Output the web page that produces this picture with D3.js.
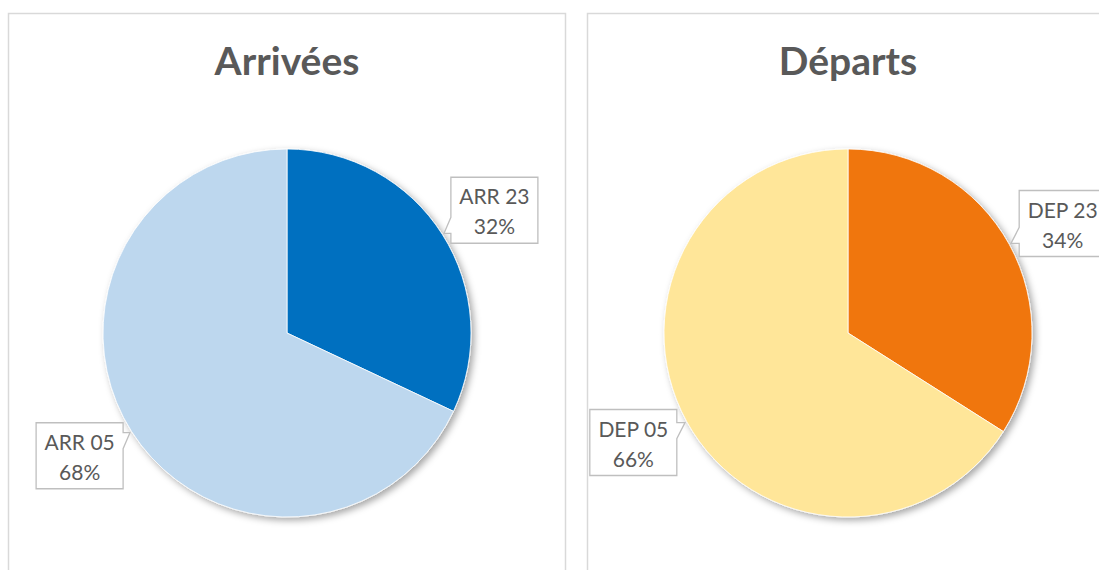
<!DOCTYPE html>
<html>
<head>
<meta charset="utf-8">
<script src="https://cdn.jsdelivr.net/npm/d3@7"></script>
<style>
  html, body { margin: 0; padding: 0; background: #fff; }
  svg { display: block; }
</style>
</head>
<body>
<svg id="chart" width="1099" height="570"></svg>
<script>
// data
const arrLabels = ['ARR 23', 'ARR 05'];
const arrValues = [32, 68];
const arrColors = ['#0070C0', '#BDD7EE'];

const depLabels = ['DEP 23', 'DEP 05'];
const depValues = [34, 66];
const depColors = ['#F0760C', '#FFE699'];

const panels = [
  { title: 'Arrivées', labels: arrLabels, values: arrValues, colors: arrColors, x: 8, cx: 287 },
  { title: 'Départs', labels: depLabels, values: depValues, colors: depColors, x: 587, cx: 848 }
];

const svg = d3.select('#chart');
const panelW = 557;
const cy = 333;
const radius = 184;
const labelRadius = 241;
const labelShift = 0.031; // labels sit a little clockwise of the slice middle
const boxW = 87, boxH = 66;

// soft drop shadow under the pies
const defs = svg.append('defs');
const shadow = defs.append('filter').attr('id', 'pieShadow')
  .attr('x', '-20%').attr('y', '-20%').attr('width', '140%').attr('height', '140%');
shadow.append('feDropShadow')
  .attr('dx', 3).attr('dy', 3).attr('stdDeviation', 3.5)
  .attr('flood-color', '#000').attr('flood-opacity', 0.35);

const pie = d3.pie().sort(null);
const arc = d3.arc().innerRadius(0).outerRadius(radius);
const tipArc = d3.arc().innerRadius(radius + 2).outerRadius(radius + 2);

function labelPos(d) {
  const a = (d.startAngle + d.endAngle) / 2 + labelShift;
  return [labelRadius * Math.sin(a), -labelRadius * Math.cos(a)];
}

panels.forEach((p) => {
  const g = svg.append('g');

  g.append('rect')
    .attr('x', p.x + 0.5).attr('y', 13.5)
    .attr('width', panelW).attr('height', 620)
    .attr('fill', '#fff')
    .attr('stroke', '#d9d9d9').attr('stroke-width', 1.5);

  g.append('text')
    .attr('x', p.cx).attr('y', 75)
    .attr('text-anchor', 'middle')
    .attr('font-family', 'Lato, "Open Sans", sans-serif')
    .attr('font-weight', 'bold')
    .attr('font-size', 39)
    .attr('fill', '#595959')
    .text(p.title);

  const pieG = g.append('g').attr('transform', `translate(${p.cx},${cy})`);
  const arcs = pie(p.values);

  pieG.append('g').attr('filter', 'url(#pieShadow)')
    .selectAll('path')
    .data(arcs)
    .join('path')
    .attr('d', arc)
    .attr('fill', (d, i) => p.colors[i])
    .attr('stroke', '#fff')
    .attr('stroke-width', 0.8);

  const total = d3.sum(p.values);
  arcs.forEach((d, i) => {
    const [lx, ly] = labelPos(d);
    const [tx, ty] = tipArc.centroid(d);
    const x0 = lx - boxW / 2, y0 = ly - boxH / 2;
    const x1 = x0 + boxW, y1 = y0 + boxH;

    // callout outline with a wedge on the side facing the pie
    const dir = ly > ty ? 1 : -1;
    const b1 = Math.max(y0 + 2, Math.min(y1 - 2, ty));
    const b2 = Math.max(y0 + 2, Math.min(y1 - 2, ty + dir * 16));
    const lo = Math.min(b1, b2), hi = Math.max(b1, b2);
    let pts;
    if (tx < x0) {
      pts = [[x0, y0], [x1, y0], [x1, y1], [x0, y1], [x0, hi], [tx, ty], [x0, lo]];
    } else {
      pts = [[x0, y0], [x1, y0], [x1, lo], [tx, ty], [x1, hi], [x1, y1], [x0, y1]];
    }
    pieG.append('path')
      .attr('d', 'M' + pts.map((q) => q.join(',')).join('L') + 'Z')
      .attr('fill', '#fff')
      .attr('stroke', '#bfbfbf')
      .attr('stroke-width', 1.3);

    const t = pieG.append('text')
      .attr('text-anchor', 'middle')
      .attr('font-family', 'Lato, "Open Sans", sans-serif')
      .attr('font-size', 21)
      .attr('fill', '#595959');
    t.append('tspan').attr('x', lx).attr('y', ly - 6).text(p.labels[i]);
    t.append('tspan').attr('x', lx).attr('y', ly + 24)
      .text(Math.round(d.data / total * 100) + '%');
  });
});
</script>
</body>
</html>
